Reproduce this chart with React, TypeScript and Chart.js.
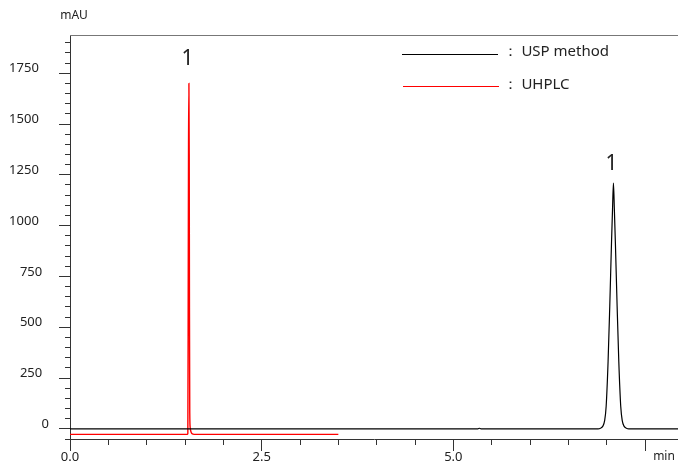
import { useEffect, useRef } from 'react';
import { Chart, registerables } from 'chart.js';

Chart.register(...registerables);

// ---- data ----
const seriesNames = ['USP method', 'UHPLC'];
const seriesColors = ['#000000', '#ff0000'];

const uspTime = [0, 5.32, 5.34, 5.36, 6.888, 6.918, 6.948, 6.973, 6.993, 7.018, 7.04, 7.063, 7.076, 7.088, 7.1, 7.113, 7.136, 7.158, 7.183, 7.203, 7.228, 7.258, 7.288, 7.93];
const uspSignal = [0, 0, 3, 0, 0, 3, 12, 40, 111, 330, 603, 920, 1080, 1209, 1080, 920, 603, 330, 111, 40, 12, 3, 0, 0];

const uhplcTime = [0, 1.53, 1.537, 1.542, 1.546, 1.551, 1.555, 1.558, 1.562, 1.568, 1.578, 1.593, 1.62, 3.5];
const uhplcSignal = [-27, -27, -22, 700, 1400, 1700, 1350, 600, 80, 5, -15, -24, -27, -27];

const peakLabels = ['1', '1'];
const peakLabelTimes = [1.533, 7.063];
const peakLabelValues = [1790, 1274];

const xMin = 0;
const xMax = 7.93;
const xStep = 0.5;
const xMajor = 2.5;
const yMin = -50;
const yMax = 1938;
const yStep = 50;
const yMajor = 250;
const yUnit = 'mAU';
const xUnit = 'min';

const FONT = '"Noto Sans", "Open Sans", sans-serif';

const isMult = (v: number, m: number) => Math.abs(v / m - Math.round(v / m)) < 1e-6;

const decorPlugin = {
  id: 'decor',
  afterDraw(chart: any) {
    const { ctx, chartArea, scales } = chart;
    const xs = scales.x;
    const ys = scales.y;
    ctx.save();
    // top frame line
    ctx.strokeStyle = '#777777';
    ctx.lineWidth = 1;
    ctx.beginPath();
    const ty = Math.round(chartArea.top) + 0.5;
    ctx.moveTo(chartArea.left, ty);
    ctx.lineTo(chartArea.right, ty);
    ctx.stroke();
    // unit labels
    ctx.fillStyle = '#222222';
    ctx.font = `12px ${FONT}`;
    ctx.textAlign = 'center';
    ctx.textBaseline = 'middle';
    ctx.fillText(yUnit, chartArea.left + 4, chartArea.top - 19);
    ctx.fillText(xUnit, chartArea.right - 14, xs.top + 17.5);
    // peak labels
    ctx.font = `21px ${FONT}`;
    ctx.textBaseline = 'alphabetic';
    peakLabels.forEach((t, i) => {
      ctx.fillText(t, xs.getPixelForValue(peakLabelTimes[i]), ys.getPixelForValue(peakLabelValues[i]));
    });
    ctx.restore();
  },
};

export default function App() {
  const ref = useRef<HTMLCanvasElement | null>(null);

  useEffect(() => {
    if (!ref.current) return;
    const chart = new Chart(ref.current, {
      type: 'line',
      data: {
        datasets: [
          {
            label: seriesNames[0],
            data: uspTime.map((t, i) => ({ x: t, y: uspSignal[i] })),
            borderColor: seriesColors[0],
            backgroundColor: seriesColors[0],
            borderWidth: 1.2,
            pointRadius: 0,
            cubicInterpolationMode: 'monotone',
            fill: false,
          },
          {
            label: seriesNames[1],
            data: uhplcTime.map((t, i) => ({ x: t, y: uhplcSignal[i] })),
            borderColor: seriesColors[1],
            backgroundColor: seriesColors[1],
            borderWidth: 1.4,
            pointRadius: 0,
            cubicInterpolationMode: 'monotone',
            fill: false,
          },
        ],
      },
      options: {
        animation: false,
        responsive: false,
        layout: { padding: { top: 35, right: 0, left: 0, bottom: 0 } },
        plugins: { legend: { display: false }, tooltip: { enabled: false } },
        elements: { point: { radius: 0 } },
        scales: {
          x: {
            type: 'linear',
            position: 'bottom',
            min: xMin,
            max: xMax,
            afterFit: (s: any) => {
              s.height = 30;
            },
            border: { display: true, color: '#333333', width: 1 },
            grid: {
              drawOnChartArea: false,
              drawTicks: true,
              tickLength: 12,
              tickColor: '#333333',
              tickWidth: 1,
              tickBorderDash: (c: any) => (c.tick && isMult(c.tick.value, xMajor) ? [] : [5, 20]),
            },
            ticks: {
              stepSize: xStep,
              autoSkip: false,
              includeBounds: false,
              maxRotation: 0,
              minRotation: 0,
              padding: -2,
              color: '#222222',
              font: { family: FONT, size: 13 },
              callback: (v: any) => {
                const n = Number(v);
                return isMult(n, xMajor) && n + xMajor <= xMax ? n.toFixed(1) : '';
              },
            },
          },
          y: {
            type: 'linear',
            position: 'left',
            min: yMin,
            max: yMax,
            afterFit: (s: any) => {
              s.width = 70;
            },
            border: { display: true, color: '#333333', width: 1 },
            grid: {
              drawOnChartArea: false,
              drawTicks: true,
              tickLength: 11,
              tickColor: '#333333',
              tickWidth: 1,
              tickBorderDash: (c: any) => (c.tick && isMult(c.tick.value, yMajor) ? [] : [0, 6, 5, 100]),
            },
            ticks: {
              stepSize: yStep,
              autoSkip: false,
              includeBounds: false,
              padding: 10,
              labelOffset: -4.5,
              color: '#222222',
              font: { family: FONT, size: 13 },
              callback: (v: any) => {
                const n = Number(v);
                if (n < 0 || !isMult(n, yMajor)) return '';
                const s = String(n);
                return s + ' '.repeat(s.length >= 4 ? 3 : s.length >= 3 ? 2 : 0);
              },
            },
          },
        },
      },
      plugins: [decorPlugin],
    } as any);
    return () => chart.destroy();
  }, []);

  const legendLineLeft = [402, 403];
  const legendLineTop = [54, 86];
  const legendTextTop = [40, 72.5];

  return (
    <div style={{ position: 'fixed', left: 0, top: 0, width: 678, height: 469, background: '#ffffff', overflow: 'hidden' }}>
      <canvas ref={ref} width={678} height={469} style={{ position: 'absolute', left: 0, top: 0, width: 678, height: 469 }} />
      {seriesNames.map((name, i) => (
        <div key={name}>
          <div
            style={{
              position: 'absolute',
              left: legendLineLeft[i],
              top: legendLineTop[i],
              width: 96,
              height: 0,
              borderTop: `1px solid ${seriesColors[i]}`,
            }}
          />
          <div
            style={{
              position: 'absolute',
              left: 502.5,
              top: legendTextTop[i],
              font: `15px ${FONT}`,
              lineHeight: '20px',
              color: '#222222',
              whiteSpace: 'nowrap',
            }}
          >
            {'： ' + name}
          </div>
        </div>
      ))}
    </div>
  );
}
